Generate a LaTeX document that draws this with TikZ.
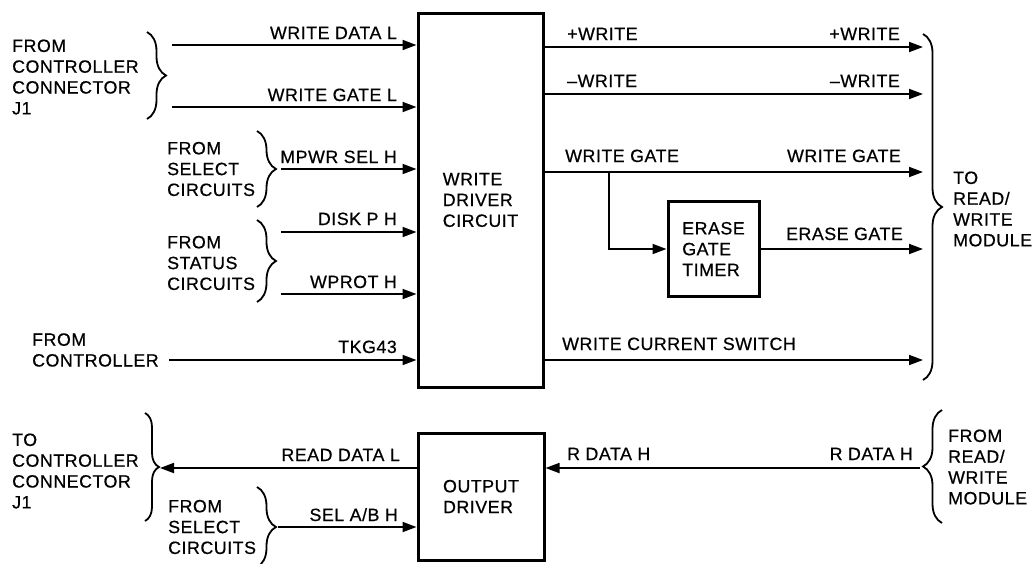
\documentclass[tikz,border=0pt]{standalone}
\usepackage{fontspec}
\setmainfont{Liberation Sans}[LetterSpace=3, FakeBold=0.6]
\usetikzlibrary{arrows.meta,decorations.pathreplacing}

\tikzset{
  every node/.style={font=\fontsize{17.8}{20.8}\selectfont, inner sep=0pt},
  box/.style={draw, line width=3pt, align=left},
  sig/.style={line width=1.8pt, -{Triangle[length=14pt, width=10pt]}},
  brc/.style={decorate, decoration={brace, amplitude=19pt}, line width=1.8pt},
  txt/.style={align=left, anchor=west}
}

\begin{document}
\begin{tikzpicture}[x=1pt, y=-1pt]

\useasboundingbox (0,0) rectangle (1035,563);

\node[box, minimum width=125pt, minimum height=374pt] (wdc) at (480.5,200) {WRITE\\DRIVER\\CIRCUIT};
\node[box, minimum width=126pt, minimum height=127pt] (od) at (481,496.5) {OUTPUT\\DRIVER};
\node[box, minimum width=91pt, minimum height=95pt] (egt) at (713.5,249) {ERASE\\GATE\\TIMER};

\coordinate (wdl) at (172,45);
\coordinate (wgl) at (172,107);
\coordinate (mps) at (281,169);
\coordinate (dkp) at (281,232);
\coordinate (wpr) at (281,294);
\coordinate (tkg) at (169,360);
\coordinate (sab) at (278,527);
\coordinate (rdl) at (160,468);

\draw[sig] (wdl) -- (wdl -| wdc.west);
\draw[sig] (wgl) -- (wgl -| wdc.west);
\draw[sig] (mps) -- (mps -| wdc.west);
\draw[sig] (dkp) -- (dkp -| wdc.west);
\draw[sig] (wpr) -- (wpr -| wdc.west);
\draw[sig] (tkg) -- (tkg -| wdc.west);
\draw[sig] (sab) -- (sab -| od.west);
\draw[sig] (rdl -| od.west) -- (rdl);

\node[anchor=base east] at (397,39) {WRITE DATA L};
\node[anchor=base east] at (397,101) {WRITE GATE L};
\node[anchor=base east] at (397,163) {MPWR SEL H};
\node[anchor=base east] at (397,225) {DISK P H};
\node[anchor=base east] at (397,288) {WPROT H};
\node[anchor=base east] at (397,353) {TKG43};
\node[anchor=base east] at (400,461) {READ DATA L};
\node[anchor=base east] at (398,521) {SEL A/B H};

\coordinate (pw) at (923,47);
\coordinate (mw) at (923,94);
\coordinate (wg) at (923,172);
\coordinate (eg) at (923,249);
\coordinate (wcs) at (923,360);
\coordinate (br) at (609,172);
\coordinate (rdh) at (920,468);

\draw[sig] (pw -| wdc.east) -- (pw);
\draw[sig] (mw -| wdc.east) -- (mw);
\draw[sig] (wg -| wdc.east) -- (wg);
\draw[sig] (wcs -| wdc.east) -- (wcs);
\draw[sig] (br) |- (egt.west);
\draw[sig] (egt.east) -- (eg);
\draw[sig] (rdh) -- (rdh -| od.east);

\node[anchor=base west] at (567,40) {+WRITE};
\node[anchor=base west] at (567,87) {\textendash WRITE};
\node[anchor=base west] at (565,162) {WRITE GATE};
\node[anchor=base west] at (562,350) {WRITE CURRENT SWITCH};
\node[anchor=base west] at (567,460) {R DATA H};
\node[anchor=base east] at (900,40) {+WRITE};
\node[anchor=base east] at (900,87) {\textendash WRITE};
\node[anchor=base east] at (901,162) {WRITE GATE};
\node[anchor=base east] at (903,240) {ERASE GATE};
\node[anchor=base east] at (913,460) {R DATA H};

\node[txt] (fcc) at (12,77) {FROM\\CONTROLLER\\CONNECTOR\\J1};
\node[txt] (fsc) at (167,169) {FROM\\SELECT\\CIRCUITS};
\node[txt] (fst) at (167,263) {FROM\\STATUS\\CIRCUITS};
\node[txt] (fco) at (32,350) {FROM\\CONTROLLER};
\node[txt] (tcc) at (12,471) {TO\\CONTROLLER\\CONNECTOR\\J1};
\node[txt] (fsb) at (168,527) {FROM\\SELECT\\CIRCUITS};
\node[txt] (trw) at (953,209) {TO\\READ/\\WRITE\\MODULE};
\node[txt] (frw) at (948,467) {FROM\\READ/\\WRITE\\MODULE};

\draw[brc] (147,32) -- (147,119);
\draw[brc] (257,131) -- (257,207);
\draw[brc] (257,220) -- (257,302);
\draw[brc, decoration={amplitude=14pt}] (145,413) -- (145,521);
\draw[brc] (257,487) -- (257,567);
\draw[brc] (923,34) -- (923,380);
\draw[brc] (942,523) -- (942,410);

\end{tikzpicture}
\end{document}
